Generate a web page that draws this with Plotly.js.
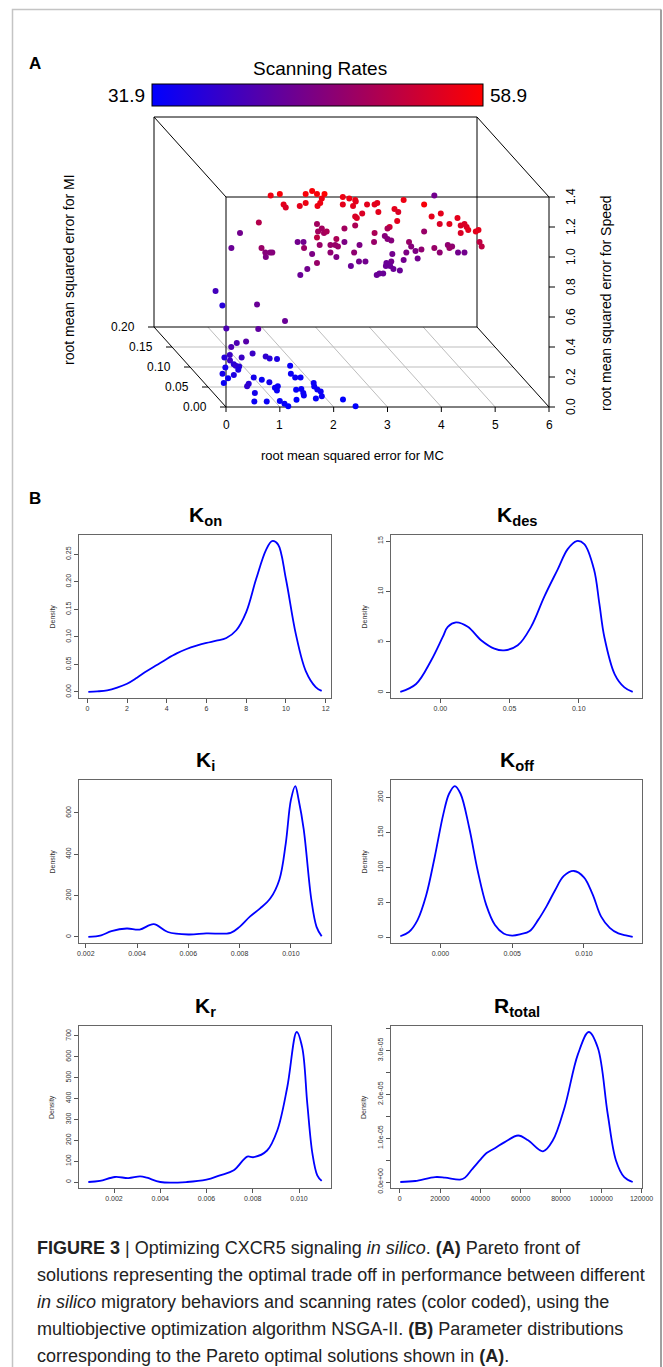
<!DOCTYPE html>
<html><head><meta charset="utf-8">
<script src="https://cdn.plot.ly/plotly-3.0.1.min.js"></script>
<style>html,body{margin:0;padding:0;background:#fff;} #chart{width:663px;height:1367px;}</style>
</head><body><div id="chart"></div>
<script>
// ---------------- Panel A data (Pareto front) ----------------
const mcVals = [
0.83,1.00,1.48,1.60,1.69,1.83,1.78,1.75,1.70,1.48,
1.37,1.07,1.11,2.17,2.29,2.40,2.41,2.17,2.36,2.62,
2.76,2.81,2.83,3.30,3.68,3.87,3.13,3.20,2.40,2.43,
2.53,3.18,3.82,3.99,4.15,4.30,4.36,4.43,4.47,4.50,
4.36,4.64,4.69,4.71,4.75,3.97,0.61,2.76,3.04,3.00,
2.40,1.69,1.71,1.78,1.82,1.87,2.20,2.05,1.69,3.68,
4.12,4.20,4.15,4.31,4.43,3.87,3.97,2.95,3.00,3.07,
3.40,3.44,3.35,3.52,3.63,3.56,3.30,3.09,3.07,2.98,
2.97,3.05,3.11,3.23,2.80,2.85,2.92,2.59,2.47,2.32,
2.38,2.48,2.75,2.20,2.03,2.08,1.94,1.94,2.05,1.74,
1.69,1.60,1.51,1.38,1.33,1.44,1.45,0.82,0.74,0.73,
0.86,0.66,0.26,0.10,
0.14,0.20,0.71,1.23,0.80,0.34,
1.10,1.27,1.47,0.80,0.94,0.85,0.86,0.87,0.92,1.12,
1.39,1.58,1.62,1.75,0.49,0.65,0.52,0.36,0.68,0.85,
0.81,0.74,1.01,1.12,1.22,1.23,1.31,1.22,1.88,1.76,
1.78,1.88,1.59,1.70,1.67,1.64,2.03,1.98,1.99,2.02,
1.96,1.81,2.30,2.42,0.77,0.62,0.85,1.10,1.14,1.17,
1.43];
const miVals = [
0,0,0,0,0,0,0,0,0,0,
0,0,0,0,0,0,0,0,0,0,
0,0,0,0,0,0,0,0,0,0,
0,0,0,0,0,0,0,0,0,0,
0,0,0,0,0,0,0,0,0,0,
0,0,0,0,0,0,0,0,0,0,
0,0,0,0,0,0,0,0,0,0,
0,0,0,0,0,0,0,0,0,0,
0,0,0,0,0,0,0,0,0,0,
0,0,0,0,0,0,0,0,0,0,
0,0,0,0,0,0,0,0,0,0,
0,0,0,0,
0.05,0.04,0.02,0.02,0.03,0.05,
0.150,0.160,0.164,0.124,0.130,0.116,0.107,0.103,0.101,0.124,
0.134,0.126,0.121,0.120,0.083,0.099,0.072,0.060,0.080,0.093,
0.058,0.052,0.074,0.068,0.062,0.048,0.052,0.041,0.103,0.083,
0.074,0.074,0.043,0.045,0.035,0.029,0.060,0.051,0.044,0.039,
0.027,0.021,0.019,0.002,0.035,0.014,0.014,0.015,0.008,0.002,
0.018];
const speedVals = [
1.41,1.42,1.42,1.44,1.42,1.42,1.39,1.36,1.34,1.36,
1.34,1.35,1.33,1.40,1.39,1.38,1.37,1.35,1.34,1.35,
1.35,1.36,1.30,1.38,1.35,1.41,1.32,1.30,1.27,1.26,
1.29,1.24,1.27,1.29,1.22,1.26,1.21,1.22,1.20,1.18,
1.16,1.17,1.18,1.10,1.07,1.22,1.23,1.16,1.20,1.19,
1.21,1.22,1.17,1.19,1.16,1.17,1.19,1.12,1.13,1.17,
1.08,1.07,1.06,1.03,1.03,1.06,1.03,1.14,1.12,1.11,
1.10,1.07,1.03,1.04,1.05,0.99,0.98,1.02,0.97,0.96,
0.94,0.94,0.92,0.91,0.88,0.89,0.89,0.97,0.97,0.94,
1.03,1.08,1.10,1.10,1.08,1.07,1.08,1.03,1.00,1.08,
0.96,1.02,0.92,0.88,1.10,1.10,1.06,1.03,1.00,1.03,
1.03,1.06,1.16,1.06,
0.64,0.57,0.63,0.52,0.44,0.39,
0,0,0,0,0,0,0,0,0,0,
0,0,0,0,0,0,0,0,0,0,
0,0,0,0,0,0,0,0,0,0,
0,0,0,0,0,0,0,0,0,0,
0,0,0,0,0,0,0,0,0,0,
0];
const rateVals = [
57,58,58,58,58,58.9,57,57,57,57,
56,56,55,57,57,57,56,56,56,56,
56,56,56,57,58,44,56,55,55,55,
55,56,56,56,56,56,55,55,55,56,
55,56,56,52,52,55,51,50,54,50,
50,49,49,49,49,50,49,50,52,48,
47,47,48,44,44,48,47,46,46,46,
48,46,45,45,47,44,44,44,44,43,
43,43,43,43,43,43,43,44,44,43,
47,45,48,45,48,48,48,47,45,48,
48,45,44,43,44,44,48,46,45,46,
46,48,44,43,
39,36,43,43,42,40,
40,40,41,36,38,38,36,37,36,38,
38,37,36,35,34,34,33,33,35,35,
36,37,34,33,34,33,33,33,33,33,
33,33,32.5,33,33,33,33,33,33,33,
33,32.5,32,32,34,33,33,32.5,32.5,32,
32];
const rateRange = [31.9, 58.9];
const mcLim = [0, 6], miLim = [0, 0.2], spLim = [0, 1.4];
const mcTicks = [0,1,2,3,4,5,6];
const mcTickLabels = ['0','1','2','3','4','5','6'];
const miTicks = [0.00,0.05,0.10,0.15,0.20];
const miTickLabels = ['0.00','0.05','0.10','0.15','0.20'];
const spTicks = [0,0.2,0.4,0.6,0.8,1.0,1.2,1.4];
const spTickLabels = ['0.0','0.2','0.4','0.6','0.8','1.0','1.2','1.4'];

// ---------------- Panel B data (density curves) ----------------
const konX = [0.05,0.5,1,1.5,2,2.5,3,3.5,4,4.5,5,5.5,6,6.5,7,7.5,8,8.5,9,9.3,9.6,10,10.5,11,11.5,11.8];
const konY = [0.000,0.001,0.003,0.008,0.015,0.026,0.038,0.049,0.060,0.070,0.078,0.084,0.089,0.093,0.098,0.112,0.145,0.205,0.258,0.274,0.268,0.205,0.105,0.038,0.009,0.002];
const kdesX = [-0.029,-0.0176,-0.0067,0.0017,0.0053,0.0113,0.0198,0.0294,0.039,0.046,0.0559,0.0655,0.0751,0.0848,0.092,0.0985,0.104,0.111,0.1149,0.1185,0.126,0.133,0.139];
const kdesY = [0.05,0.84,3.17,5.5,6.5,6.94,6.5,5.17,4.34,4.17,4.67,6.5,9.5,12.2,14.2,15.0,14.7,12.2,8.8,5.5,1.8,0.5,0.05];
const kiX = [0.0021,0.0026,0.0030,0.0036,0.0041,0.00465,0.0052,0.0060,0.0067,0.00765,0.0080,0.0084,0.0088,0.0092,0.00955,0.0098,0.0100,0.01017,0.0103,0.0105,0.0108,0.0110,0.0112];
const kiY = [0,8,28,41,36,62,24,12,17,20,49,98,138,187,277,453,663,730,665,520,178,49,3];
const koffX = [-0.0028,-0.0022,-0.0016,-0.0010,-0.0004,0.0002,0.0006,0.0010,0.0014,0.0020,0.0026,0.0032,0.0038,0.0044,0.0050,0.0056,0.0062,0.0068,0.0074,0.0080,0.0086,0.0093,0.0100,0.0106,0.0112,0.0118,0.0124,0.0130,0.0134];
const koffY = [2,8,25,60,115,176,205,216,205,157,95,46,18,6,3,5,9,25,45,68,88,95,86,62,30,14,6,3,1];
const krX = [0.00089,0.00139,0.00204,0.00262,0.00313,0.00342,0.0040,0.00515,0.0060,0.00658,0.00718,0.00776,0.00804,0.00862,0.00906,0.00949,0.0099,0.01014,0.01036,0.01058,0.01079,0.01098];
const krY = [0,5,24,19,27,21,0,0,11,32,56,122,119,151,247,453,719,644,374,136,32,5];
const rtX = [300,7700,17600,22500,29900,32400,35700,39800,43100,47200,52100,58800,63700,71100,76000,81800,88400,93800,98300,103200,107300,111400,115600];
const rtY = [0,0.023e-5,0.113e-5,0.10e-5,0.054e-5,0.10e-5,0.28e-5,0.50e-5,0.66e-5,0.77e-5,0.91e-5,1.06e-5,0.95e-5,0.70e-5,0.95e-5,1.70e-5,2.91e-5,3.42e-5,3.06e-5,1.55e-5,0.49e-5,0.11e-5,0];

const konXT = [0,2,4,6,8,10,12], konXL = ['0','2','4','6','8','10','12'];
const konYT = [0,0.05,0.10,0.15,0.20,0.25], konYL = ['0.00','0.05','0.10','0.15','0.20','0.25'];
const kdesXT = [0,0.05,0.10], kdesXL = ['0.00','0.05','0.10'];
const kdesYT = [0,5,10,15], kdesYL = ['0','5','10','15'];
const kiXT = [0.002,0.004,0.006,0.008,0.010], kiXL = ['0.002','0.004','0.006','0.008','0.010'];
const kiYT = [0,200,400,600], kiYL = ['0','200','400','600'];
const koffXT = [0,0.005,0.010], koffXL = ['0.000','0.005','0.010'];
const koffYT = [0,50,100,150,200], koffYL = ['0','50','100','150','200'];
const krXT = [0.002,0.004,0.006,0.008,0.010], krXL = ['0.002','0.004','0.006','0.008','0.010'];
const krYT = [0,100,200,300,400,500,600,700], krYL = ['0','100','200','300','400','500','600','700'];
const rtXT = [0,20000,40000,60000,80000,100000,120000], rtXL = ['0','20000','40000','60000','80000','100000','120000'];
const rtYT = [0,1e-5,2e-5,3e-5], rtYL = ['0.0e+00','1.0e-05','2.0e-05','3.0e-05'];
const rtYMinor = [0.5e-5,1.5e-5,2.5e-5,3.5e-5];

const captionLines = [
 '<b>FIGURE 3</b> | Optimizing CXCR5 signaling <i>in silico</i>. <b>(A)</b> Pareto front of',
 'solutions representing the optimal trade off in performance between different',
 '<i>in silico</i> migratory behaviors and scanning rates (color coded), using the',
 'multiobjective optimization algorithm NSGA-II. <b>(B)</b> Parameter distributions',
 'corresponding to the Pareto optimal solutions shown in <b>(A)</b>.'
];

// ---------------- layout helpers ----------------
const W = 663, H = 1367;
const FONT = 'Liberation Sans, Arial, Helvetica, sans-serif';
const px = v => v / W;
const py = v => 1 - v / H;

const data = [];
const annotations = [];
const shapes = [];
const layout = {
  width: W, height: H, margin: {l:0, r:0, t:0, b:0},
  paper_bgcolor: '#fff', plot_bgcolor: 'rgba(0,0,0,0)',
  showlegend: false, font: {family: FONT, color: '#000'}
};

// ----- Panel A : oblique 3-D projection on 2-D axes -----
const A = {l: 40, r: 640, t: 40, b: 470};
const front = {x0: 226, x1: 549, y0: 407, y1: 197};   // pixel positions of front face
const depthPx = {dx: -72, dy: 80};                      // pixel shift of the full MI depth
const xs = (front.x1 - front.x0) / (mcLim[1] - mcLim[0]);
const ys = (front.y0 - front.y1) / (spLim[1] - spLim[0]);
layout.xaxis = {domain: [px(A.l), px(A.r)], range: [mcLim[0] + (A.l - front.x0) / xs, mcLim[0] + (A.r - front.x0) / xs],
  visible: false, fixedrange: true};
layout.yaxis = {domain: [py(A.b), py(A.t)], range: [spLim[0] + (front.y0 - A.b) / ys, spLim[0] + (front.y0 - A.t) / ys],
  visible: false, fixedrange: true};
function project(mc, mi, sp) {
  const t = (mi - miLim[0]) / (miLim[1] - miLim[0]);
  return [mc + t * depthPx.dx / xs, sp + t * depthPx.dy / ys];
}
function segTrace(segs, color, width) {
  const x = [], y = [];
  segs.forEach(s => { x.push(s[0][0], s[1][0], null); y.push(s[0][1], s[1][1], null); });
  return {type: 'scatter', mode: 'lines', x, y, xaxis: 'x', yaxis: 'y', hoverinfo: 'skip',
    line: {color, width}, cliponaxis: false};
}
// floor grid
const grid = [];
miTicks.filter(v => v > miLim[0] && v < miLim[1]).forEach(v => grid.push([project(mcLim[0], v, 0), project(mcLim[1], v, 0)]));
mcTicks.filter(v => v > mcLim[0] && v < mcLim[1]).forEach(v => grid.push([project(v, miLim[0], 0), project(v, miLim[1], 0)]));
data.push(segTrace(grid, '#bdbdbd', 1));
// box edges
const corners = [];
mcLim.forEach(a => miLim.forEach(b => spLim.forEach(c => corners.push([a, b, c]))));
const edges = [];
for (let i = 0; i < corners.length; i++) for (let j = i + 1; j < corners.length; j++) {
  const d = corners[i].filter((v, k) => v !== corners[j][k]).length;
  if (d === 1) edges.push([project(...corners[i]), project(...corners[j])]);
}
data.push(segTrace(edges, '#000', 1));
// ticks
const tks = [];
mcTicks.forEach(v => { const p = project(v, 0, 0); tks.push([p, [p[0], p[1] - 5 / ys]]); });
spTicks.forEach(v => { const p = project(mcLim[1], 0, v); tks.push([p, [p[0] + 6 / xs, p[1]]]); });
miTicks.forEach(v => { const p = project(mcLim[0], v, 0); tks.push([p, [p[0] - 6 / xs, p[1]]]); });
data.push(segTrace(tks, '#000', 1));
// points
const pts = mcVals.map((m, i) => project(m, miVals[i], speedVals[i]));
data.push({type: 'scatter', mode: 'markers', x: pts.map(p => p[0]), y: pts.map(p => p[1]),
  xaxis: 'x', yaxis: 'y', hoverinfo: 'skip', cliponaxis: false,
  marker: {size: 6, color: rateVals, cmin: rateRange[0], cmax: rateRange[1],
    colorscale: [[0, '#0000ff'], [1, '#ff0000']], line: {width: 0},
    showscale: true,
    colorbar: {orientation: 'h', x: px(152), xanchor: 'left', y: py(107), yanchor: 'bottom',
      len: 331, lenmode: 'pixels', thickness: 22, thicknessmode: 'pixels',
      outlinewidth: 1, outlinecolor: '#000', showticklabels: false, ticks: '',
      xpad: 0, ypad: 0, borderwidth: 0}}});
// panel A labels
const tickFontA = {family: FONT, size: 12, color: '#000'};
mcTicks.forEach((v, i) => { const p = project(v, 0, 0);
  annotations.push({xref: 'x', yref: 'y', x: p[0], y: p[1], text: mcTickLabels[i], showarrow: false,
    xanchor: 'center', yanchor: 'top', yshift: -9, font: tickFontA}); });
spTicks.forEach((v, i) => { const p = project(mcLim[1], 0, v);
  annotations.push({xref: 'x', yref: 'y', x: p[0], y: p[1], text: spTickLabels[i], showarrow: false,
    xanchor: 'center', yanchor: 'middle', xshift: 22, textangle: -90, font: tickFontA}); });
miTicks.forEach((v, i) => { const p = project(mcLim[0], v, 0);
  annotations.push({xref: 'x', yref: 'y', x: p[0], y: p[1], text: miTickLabels[i], showarrow: false,
    xanchor: 'right', yanchor: 'middle', xshift: -17, font: tickFontA}); });
annotations.push({xref: 'paper', yref: 'paper', x: px(352), y: py(455), text: 'root mean squared error for MC',
  showarrow: false, xanchor: 'center', yanchor: 'middle', font: {family: FONT, size: 13, color: '#000'}});
annotations.push({xref: 'paper', yref: 'paper', x: px(69), y: py(270), text: 'root mean squared error for MI',
  showarrow: false, xanchor: 'center', yanchor: 'middle', textangle: -90, font: {family: FONT, size: 14, color: '#000'}});
annotations.push({xref: 'paper', yref: 'paper', x: px(606), y: py(303), text: 'root mean squared error for Speed',
  showarrow: false, xanchor: 'center', yanchor: 'middle', textangle: -90, font: {family: FONT, size: 14, color: '#000'}});
annotations.push({xref: 'paper', yref: 'paper', x: px(320), y: py(68), text: 'Scanning Rates',
  showarrow: false, xanchor: 'center', yanchor: 'middle', font: {family: FONT, size: 19, color: '#000'}});
annotations.push({xref: 'paper', yref: 'paper', x: px(147), y: py(96), text: String(rateRange[0]),
  showarrow: false, xanchor: 'right', yanchor: 'middle', font: {family: FONT, size: 19, color: '#000'}});
annotations.push({xref: 'paper', yref: 'paper', x: px(488), y: py(96), text: String(rateRange[1]),
  showarrow: false, xanchor: 'left', yanchor: 'middle', font: {family: FONT, size: 19, color: '#000'}});
annotations.push({xref: 'paper', yref: 'paper', x: px(27), y: py(64), text: '<b>A</b>',
  showarrow: false, xanchor: 'left', yanchor: 'middle', font: {family: FONT, size: 17, color: '#000'}});
annotations.push({xref: 'paper', yref: 'paper', x: px(27), y: py(498), text: '<b>B</b>',
  showarrow: false, xanchor: 'left', yanchor: 'middle', font: {family: FONT, size: 17, color: '#000'}});

// ----- Panel B : density plots -----
const panels = [
  {title: 'K<sub>on</sub>', x: konX, y: konY, xt: konXT, xl: konXL, yt: konYT, yl: konYL, box: [79, 331, 535, 698]},
  {title: 'K<sub>des</sub>', x: kdesX, y: kdesY, xt: kdesXT, xl: kdesXL, yt: kdesYT, yl: kdesYL, box: [391, 642, 535, 698]},
  {title: 'K<sub>i</sub>', x: kiX, y: kiY, xt: kiXT, xl: kiXL, yt: kiYT, yl: kiYL, box: [79, 331, 780, 943]},
  {title: 'K<sub>off</sub>', x: koffX, y: koffY, xt: koffXT, xl: koffXL, yt: koffYT, yl: koffYL, box: [391, 642, 780, 943]},
  {title: 'K<sub>r</sub>', x: krX, y: krY, xt: krXT, xl: krXL, yt: krYT, yl: krYL, box: [79, 331, 1026, 1188]},
  {title: 'R<sub>total</sub>', x: rtX, y: rtY, xt: rtXT, xl: rtXL, yt: rtYT, yl: rtYL, ym: rtYMinor, box: [391, 642, 1026, 1188]}
];
const padRange = arr => { const mn = Math.min(...arr), mx = Math.max(...arr), s = mx - mn; return [mn - 0.04 * s, mx + 0.04 * s]; };
panels.forEach((p, i) => {
  const n = i + 2, [l, r, t, b] = p.box;
  const axCommon = {showline: true, mirror: true, linecolor: '#666', linewidth: 1, ticks: 'outside', ticklen: 4,
    tickcolor: '#555', tickwidth: 1, showgrid: false, zeroline: false, fixedrange: true,
    tickfont: {family: FONT, size: 7, color: '#333'}, tickmode: 'array'};
  layout['xaxis' + n] = Object.assign({}, axCommon, {domain: [px(l), px(r)], range: padRange(p.x), anchor: 'y' + n,
    tickvals: p.xt, ticktext: p.xl, tickangle: 0});
  const yax = Object.assign({}, axCommon, {domain: [py(b), py(t)], range: padRange(p.y), anchor: 'x' + n,
    tickvals: p.yt, ticktext: p.yl, tickangle: -90});
  if (p.ym) yax.minor = {tickmode: 'array', tickvals: p.ym, ticks: 'outside', ticklen: 4, tickcolor: '#555', tickwidth: 1, showgrid: false};
  layout['yaxis' + n] = yax;
  data.push({type: 'scatter', mode: 'lines', x: p.x, y: p.y, xaxis: 'x' + n, yaxis: 'y' + n, hoverinfo: 'skip',
    line: {color: '#0000ff', width: 1.8, shape: 'spline', smoothing: 1}});
  annotations.push({xref: 'paper', yref: 'paper', x: px((l + r) / 2), y: py(t - 19), text: '<b>' + p.title + '</b>',
    showarrow: false, xanchor: 'center', yanchor: 'middle', font: {family: FONT, size: 21, color: '#000'}});
  annotations.push({xref: 'paper', yref: 'paper', x: px(l - 27), y: py((t + b) / 2), text: 'Density',
    showarrow: false, xanchor: 'center', yanchor: 'middle', textangle: -90, font: {family: FONT, size: 7, color: '#333'}});
});

// ----- caption -----
captionLines.forEach((s, i) => annotations.push({xref: 'paper', yref: 'paper', x: px(35), y: py(1248 + 27 * i),
  text: s, showarrow: false, xanchor: 'left', yanchor: 'middle', align: 'left',
  font: {family: FONT, size: 18, color: '#222'}}));

// ----- frame -----
shapes.push({type: 'path', xref: 'paper', yref: 'paper', path: `M ${px(12.5)} -0.01 L ${px(12.5)} ${py(9.5)} L ${px(661)} ${py(9.5)}`,
  line: {color: '#c4c4c4', width: 1.5}});
shapes.push({type: 'line', xref: 'paper', yref: 'paper', x0: px(661), x1: px(661), y0: py(9.5), y1: -0.01,
  line: {color: '#a0a0a0', width: 2}});

layout.annotations = annotations;
layout.shapes = shapes;
Plotly.newPlot('chart', data, layout, {staticPlot: true, displayModeBar: false});
</script></body></html>
